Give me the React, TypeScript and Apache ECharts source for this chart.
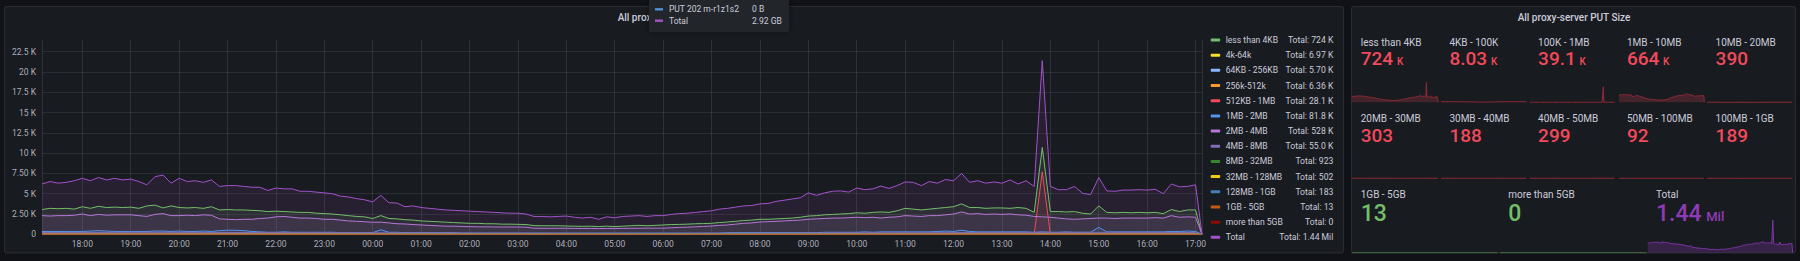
import React, { useEffect, useRef } from "react";
import * as echarts from "echarts";

// ---------------- time range (local time) ----------------
const RANGE_START = new Date(2023, 4, 10, 17, 10).getTime();
const RANGE_LAST_BUCKET = new Date(2023, 4, 11, 17, 0).getTime();
const RANGE_END = new Date(2023, 4, 11, 17, 8).getTime();
const TRAILING_BUCKET_VALUE = 0; // incomplete last bucket drops to 0

// ---------------- axis ----------------
const yTickLabels = ["0", "2.50 K", "5 K", "7.50 K", "10 K", "12.5 K", "15 K", "17.5 K", "20 K", "22.5 K"];
const yTickStep = 2.5; // thousands
const yAxisMax = 23.94; // thousands

// ---------------- legend ----------------
const legendNames = [
  "less than 4KB", "4k-64k", "64KB - 256KB", "256k-512k", "512KB - 1MB", "1MB - 2MB", "2MB - 4MB",
  "4MB - 8MB", "8MB - 32MB", "32MB - 128MB", "128MB - 1GB", "1GB - 5GB", "more than 5GB", "Total",
];
const legendColors = [
  "#73bf69", "#fade2a", "#8ab8ff", "#ff9830", "#f2495c", "#5794f2", "#b877d9",
  "#806eb7", "#37872d", "#f2cc0c", "#447ebc", "#c15c17", "#890f02", "#a352cc",
];
const legendTotals = [
  "724 K", "6.97 K", "5.70 K", "6.36 K", "28.1 K", "81.8 K", "528 K",
  "55.0 K", "923", "502", "183", "13", "0", "1.44 Mil",
];

// ---------------- series values (thousands, 10-min buckets from 17:10 to 17:00) ----------------
const lessThan4KB = [
  3.05, 3.2, 3.15, 3.2, 3.1,
  3.4, 3.2, 3.45, 3.3, 3.35, 3.3,
  3.35, 3.2, 3.5, 3.6, 3.25, 3.5,
  3.3, 3.25, 3.3, 3.2, 3.4, 3.0,
  3.05, 3.0, 3.0, 2.95, 2.9, 2.8,
  2.85, 2.8, 2.75, 2.7, 2.7, 2.6,
  2.55, 2.5, 2.4, 2.3, 2.2, 2.15,
  1.95, 2.3, 1.95, 1.9, 1.8, 1.75,
  1.65, 1.6, 1.55, 1.5, 1.45, 1.4,
  1.35, 1.35, 1.3, 1.3, 1.25, 1.25,
  1.23, 1.2, 1.07, 1.05, 1.05, 1.05,
  1.02, 1.0, 0.98, 1.0, 0.95, 1.0,
  0.95, 1.0, 1.05, 1.1, 1.05, 1.1,
  1.15, 1.2, 1.22, 1.25, 1.3, 1.32,
  1.35, 1.45, 1.52, 1.6, 1.7, 1.75,
  1.85, 1.85, 1.9, 1.95, 2.0, 2.1,
  2.25, 2.3, 2.4, 2.45, 2.5, 2.55,
  2.65, 2.6, 2.7, 2.75, 2.7, 2.9,
  3.2, 3.1, 3.0, 3.1, 3.2, 3.3,
  3.4, 3.75, 3.3, 3.3, 3.2, 3.25,
  3.25, 3.2, 3.3, 3.2, 2.7, 10.7,
  2.8, 2.8, 2.75, 2.8, 2.6, 2.5,
  3.5, 2.7, 2.65, 2.7, 2.65, 2.7,
  2.65, 2.7, 2.55, 3.05, 2.8, 3.0,
  3.0,
];
const k4to64k = [0.03, 0.03, 0.03, 0.02, 0.02, 0.01, 0.01, 0.02, 0.03, 0.03, 0.03, 0.03];
const kb64to256 = [0.02, 0.02, 0.02, 0.02, 0.01, 0.01, 0.01, 0.02, 0.02, 0.02, 0.03, 0.02];
const k256to512 = [0.03, 0.02, 0.02, 0.02, 0.01, 0.01, 0.02, 0.02, 0.03, 0.03, 0.03, 0.02];
const kb512to1MB = [
  0.03, 0.03, 0.04, 0.03, 0.03,
  0.04, 0.03, 0.03, 0.04, 0.03, 0.03,
  0.03, 0.04, 0.03, 0.03, 0.04, 0.03,
  0.03, 0.03, 0.03, 0.04, 0.03, 0.03,
  0.03, 0.03, 0.02, 0.03, 0.03, 0.02,
  0.02, 0.03, 0.02, 0.02, 0.02, 0.02,
  0.02, 0.02, 0.02, 0.02, 0.02, 0.02,
  0.02, 0.04, 0.02, 0.02, 0.02, 0.01,
  0.01, 0.01, 0.01, 0.01, 0.01, 0.01,
  0.01, 0.01, 0.01, 0.01, 0.01, 0.01,
  0.01, 0.01, 0.01, 0.01, 0.01, 0.01,
  0.01, 0.01, 0.01, 0.01, 0.01, 0.01,
  0.01, 0.01, 0.01, 0.01, 0.01, 0.01,
  0.01, 0.01, 0.01, 0.02, 0.02, 0.02,
  0.02, 0.02, 0.02, 0.02, 0.02, 0.02,
  0.02, 0.02, 0.02, 0.03, 0.03, 0.03,
  0.03, 0.03, 0.03, 0.03, 0.03, 0.03,
  0.03, 0.03, 0.03, 0.03, 0.03, 0.03,
  0.03, 0.03, 0.03, 0.04, 0.03, 0.03,
  0.03, 0.05, 0.03, 0.03, 0.03, 0.03,
  0.03, 0.03, 0.03, 0.03, 0.03, 7.7,
  0.03, 0.03, 0.03, 0.03, 0.03, 0.03,
  0.05, 0.03, 0.03, 0.03, 0.03, 0.03,
  0.03, 0.03, 0.03, 0.03, 0.03, 0.03,
  0.03,
];
const mb1to2 = [
  0.35, 0.35, 0.35, 0.35, 0.35,
  0.35, 0.4, 0.45, 0.4, 0.35, 0.35,
  0.35, 0.35, 0.35, 0.4, 0.4, 0.35,
  0.4, 0.35, 0.35, 0.4, 0.35, 0.45,
  0.5, 0.5, 0.45, 0.35, 0.3, 0.25,
  0.25, 0.3, 0.25, 0.25, 0.25, 0.25,
  0.25, 0.25, 0.2, 0.2, 0.2, 0.2,
  0.2, 0.55, 0.25, 0.25, 0.2, 0.2,
  0.2, 0.2, 0.2, 0.2, 0.2, 0.15,
  0.15, 0.15, 0.15, 0.15, 0.15, 0.15,
  0.15, 0.15, 0.15, 0.15, 0.15, 0.15,
  0.15, 0.15, 0.15, 0.15, 0.15, 0.15,
  0.15, 0.15, 0.15, 0.15, 0.15, 0.15,
  0.15, 0.15, 0.15, 0.15, 0.15, 0.15,
  0.15, 0.15, 0.2, 0.2, 0.2, 0.2,
  0.2, 0.2, 0.2, 0.2, 0.2, 0.2,
  0.2, 0.2, 0.25, 0.25, 0.25, 0.25,
  0.25, 0.3, 0.25, 0.3, 0.3, 0.3,
  0.3, 0.3, 0.3, 0.3, 0.35, 0.4,
  0.35, 0.5, 0.35, 0.3, 0.3, 0.3,
  0.3, 0.3, 0.3, 0.3, 0.25, 0.3,
  0.25, 0.25, 0.3, 0.25, 0.25, 0.25,
  0.85, 0.3, 0.3, 0.3, 0.3, 0.3,
  0.3, 0.3, 0.3, 0.35, 0.35, 0.4,
  0.35,
];
const mb2to4 = [
  2.3, 2.25, 2.3, 2.3, 2.35,
  2.5, 2.3, 2.45, 2.35, 2.4, 2.4,
  2.4, 2.3, 2.2, 2.45, 2.55, 2.3,
  2.3, 2.35, 2.3, 2.4, 2.35, 1.9,
  1.85, 1.8, 1.85, 1.85, 1.95, 2.0,
  2.15, 2.2, 2.1, 2.0, 2.0, 1.95,
  1.85, 1.85, 1.75, 1.65, 1.6, 1.55,
  1.48, 1.5, 1.4, 1.3, 1.27, 1.2,
  1.15, 1.1, 1.05, 1.0, 1.0, 0.97,
  0.94, 0.92, 0.92, 0.9, 0.9, 0.9,
  0.9, 0.88, 0.75, 0.74, 0.74, 0.74,
  0.74, 0.73, 0.72, 0.73, 0.7, 0.72,
  0.72, 0.73, 0.74, 0.75, 0.76, 0.76,
  0.76, 0.8, 0.85, 0.88, 0.92, 0.97,
  1.02, 1.1, 1.15, 1.25, 1.35, 1.4,
  1.52, 1.55, 1.6, 1.65, 1.7, 1.75,
  1.85, 1.9, 1.95, 2.0, 2.0, 2.05,
  2.1, 2.05, 2.1, 2.0, 2.1, 2.15,
  2.3, 2.25, 2.2, 2.3, 2.3, 2.4,
  2.5, 2.75, 2.5, 2.55, 2.45, 2.5,
  2.45, 2.5, 2.4, 2.35, 2.2, 2.15,
  2.1, 2.0, 1.9, 1.85, 1.9, 1.95,
  2.0, 2.0, 1.95, 2.0, 2.0, 2.0,
  2.0, 2.05, 2.0, 2.3, 2.1, 2.15,
  2.1,
];
const mb4to8 = [0.22, 0.24, 0.22, 0.19, 0.15, 0.12, 0.11, 0.14, 0.18, 0.22, 0.24, 0.22];
const mb8to32 = [0.004, 0.004, 0.003, 0.003, 0.002, 0.002, 0.002, 0.003, 0.004, 0.004, 0.004, 0.004];
const mb32to128 = [0.002, 0.002, 0.002, 0.002, 0.001, 0.001, 0.001, 0.002, 0.002, 0.002, 0.002, 0.002];
const mb128to1GB = [0.001, 0.001, 0.001, 0.0, 0.0, 0.0, 0.0, 0.001, 0.001, 0.001, 0.001, 0.001];
const gb1to5 = [0, 0, 0, 0, 0, 0, 0, 0, 0, 0, 0, 0];
const moreThan5GB = [0, 0, 0, 0, 0, 0, 0, 0, 0, 0, 0, 0];
const totalAll = [
  6.2, 6.5, 6.3, 6.4, 6.6,
  6.9, 6.6, 7.0, 6.7, 6.9, 6.7,
  6.8, 6.5, 6.1, 7.1, 7.3, 6.3,
  6.9, 6.5, 6.6, 6.4, 6.7, 5.9,
  6.0, 6.0, 5.9, 5.8, 5.8, 5.4,
  5.7, 5.6, 5.6, 5.3, 5.3, 5.2,
  5.1, 5.0, 4.7, 4.6, 4.4, 4.25,
  4.0, 4.8, 3.9, 3.85, 3.4, 3.5,
  3.3, 3.2, 3.1, 3.0, 2.95, 2.9,
  2.85, 2.8, 2.75, 2.7, 2.65, 2.6,
  2.6, 2.5, 2.2, 2.2, 2.15, 2.2,
  2.25, 2.1, 2.0, 2.1, 1.85, 2.15,
  2.05, 2.2, 2.25, 2.3, 2.2, 2.3,
  2.3, 2.45, 2.55, 2.6, 2.7, 2.8,
  2.9, 3.1, 3.2, 3.35, 3.5, 3.55,
  3.75, 3.8, 4.05, 4.2, 4.35, 4.5,
  5.1, 4.8, 5.1, 5.3, 5.35, 5.2,
  5.7, 5.5, 5.6, 5.95, 5.65, 6.0,
  6.45, 6.4, 6.0, 6.5, 6.3, 6.75,
  6.6, 7.5, 6.4, 6.6, 6.3, 6.45,
  6.3, 6.7, 6.2, 6.6, 5.9, 21.4,
  5.9, 5.5, 5.5, 5.9, 5.05, 4.9,
  7.0, 5.35, 5.3, 5.45, 5.45, 5.5,
  5.45, 5.55, 5.0, 6.2, 5.85, 5.9,
  6.1,
];
const seriesValues = [
  lessThan4KB, k4to64k, kb64to256, k256to512, kb512to1MB, mb1to2, mb2to4,
  mb4to8, mb8to32, mb32to128, mb128to1GB, gb1to5, moreThan5GB, totalAll,
];

// ---------------- stat panel ----------------
const statRow1Labels = ["less than 4KB", "4KB - 100K", "100K - 1MB", "1MB - 10MB", "10MB - 20MB"];
const statRow1Values = ["724", "8.03", "39.1", "664", "390"];
const statRow1Units = ["K", "K", "K", "K", ""];
const statRow2Labels = ["20MB - 30MB", "30MB - 40MB", "40MB - 50MB", "50MB - 100MB", "100MB - 1GB"];
const statRow2Values = ["303", "188", "299", "92", "189"];
const statRow3Labels = ["1GB - 5GB", "more than 5GB", "Total"];
const statRow3Values = ["13", "0", "1.44"];
const statRow3Units = ["", "", "Mil"];

// tooltip
const tooltipNames = ["PUT 202 m-r1z1s2", "Total"];
const tooltipValues = ["0 B", "2.92 GB"];
const tooltipColors = ["#4f8fd6", "#a352cc"];

const PANEL_TITLE = "All proxy-server PUT Size";
const FONT = "Roboto, 'Noto Sans', sans-serif";

function toPoints(vals: number[]) {
  const n = vals.length;
  const step = (RANGE_LAST_BUCKET - RANGE_START) / (n - 1);
  const pts: [number, number][] = vals.map((v, i) => [RANGE_START + i * step, v]);
  pts.push([RANGE_END, TRAILING_BUCKET_VALUE]);
  return pts;
}

const pad2 = (n: number) => (n < 10 ? "0" + n : "" + n);

function buildOption() {
  const canvas = document.createElement("canvas");
  const ctx = canvas.getContext("2d") as CanvasRenderingContext2D;
  const textWidth = (t: string, font: string) => {
    ctx.font = font;
    return ctx.measureText(t).width;
  };

  const grids: any[] = [];
  const xAxes: any[] = [];
  const yAxes: any[] = [];
  const series: any[] = [];
  const els: any[] = [];

  // ---- main time series chart ----
  grids.push({ left: 42, top: 40, width: 1160, height: 194.3 });
  xAxes.push({
    type: "time",
    gridIndex: 0,
    min: RANGE_START,
    max: RANGE_END,
    minInterval: 3600 * 1000,
    maxInterval: 3600 * 1000,
    axisLine: { show: false },
    axisTick: { show: false },
    axisLabel: {
      color: "rgba(204,204,220,0.85)",
      fontSize: 8.5,
      fontFamily: FONT,
      margin: 5,
      hideOverlap: false,
      formatter: (v: number) => {
        const d = new Date(v);
        return pad2(d.getHours()) + ":" + pad2(d.getMinutes());
      },
    },
    splitLine: { show: true, lineStyle: { color: "rgba(204,204,220,0.13)", width: 1 } },
  });
  yAxes.push({
    type: "value",
    gridIndex: 0,
    min: 0,
    max: yAxisMax,
    interval: yTickStep,
    axisLine: { show: false },
    axisTick: { show: false },
    axisLabel: {
      color: "rgba(204,204,220,0.85)",
      fontSize: 8.5,
      fontFamily: FONT,
      margin: 6,
      showMaxLabel: false,
      formatter: (v: number) => {
        const k = v / yTickStep;
        const r = Math.round(k);
        if (Math.abs(k - r) > 1e-6 || r >= yTickLabels.length) return "";
        return yTickLabels[r];
      },
    },
    splitLine: { show: true, showMaxLine: false, lineStyle: { color: "rgba(204,204,220,0.1)", width: 1 } },
  });

  legendNames.forEach((name, i) => {
    series.push({
      type: "line",
      name,
      xAxisIndex: 0,
      yAxisIndex: 0,
      data: toPoints(seriesValues[i]),
      showSymbol: false,
      symbol: "none",
      clip: false,
      silent: true,
      lineStyle: { width: 1, color: legendColors[i] },
      itemStyle: { color: legendColors[i] },
      areaStyle: { color: legendColors[i], opacity: 0.1 },
      // the empty "more than 5GB" series sits underneath the others
      z: name === "more than 5GB" ? 1 : 2,
    });
  });

  // ---- sparklines for stat tiles ----
  const RED_LINE = "#8e2a37";
  const RED_FILL = "rgba(242,73,92,0.2)";
  const GREEN_LINE = "#46703f";
  const PURPLE_LINE = "#7d36a8";
  const PURPLE_FILL = "rgba(143,59,184,0.27)";
  const col5 = [1351.7, 1441, 1530, 1619, 1707];
  const sparkDefs: any[] = [
    { data: lessThan4KB, x: col5[0], w: 86.6, top: 82.3, bottom: 102.3, fill: true, line: RED_LINE, area: RED_FILL },
    { data: k4to64k, x: col5[1], w: 85.7, top: 82.3, bottom: 102.3, flat: true, line: RED_LINE },
    { data: kb512to1MB, x: col5[2], w: 85, top: 86.7, bottom: 102.3, fill: true, line: RED_LINE, area: RED_FILL },
    { data: mb2to4, x: col5[3], w: 85.3, top: 93.5, bottom: 102.3, fill: true, line: RED_LINE, area: RED_FILL },
    { data: mb8to32, x: col5[4], w: 85.7, top: 82.3, bottom: 102.3, flat: true, line: RED_LINE },
    { data: mb8to32, x: col5[0], w: 86.6, top: 158.3, bottom: 178.3, flat: true, line: RED_LINE },
    { data: mb32to128, x: col5[1], w: 85.7, top: 158.3, bottom: 178.3, flat: true, line: RED_LINE },
    { data: mb32to128, x: col5[2], w: 85, top: 158.3, bottom: 178.3, flat: true, line: RED_LINE },
    { data: mb128to1GB, x: col5[3], w: 85.3, top: 158.3, bottom: 178.3, flat: true, line: RED_LINE },
    { data: mb128to1GB, x: col5[4], w: 85.7, top: 158.3, bottom: 178.3, flat: true, line: RED_LINE },
    { data: gb1to5, x: 1351.7, w: 146, top: 232.7, bottom: 252.7, flat: true, line: GREEN_LINE },
    { data: moreThan5GB, x: 1500, w: 146.7, top: 232.7, bottom: 252.7, flat: true, line: GREEN_LINE },
    { data: totalAll, x: 1647.7, w: 145, top: 220, bottom: 252.7, fill: true, line: PURPLE_LINE, area: PURPLE_FILL },
  ];
  sparkDefs.forEach((s, k) => {
    const gi = k + 1;
    grids.push({ left: s.x, top: s.top, width: s.w, height: s.bottom - s.top });
    xAxes.push({ type: "time", gridIndex: gi, min: RANGE_START, max: RANGE_END, show: false });
    yAxes.push({ type: "value", gridIndex: gi, min: 0, max: s.flat ? 1 : "dataMax", show: false });
    series.push({
      type: "line",
      xAxisIndex: gi,
      yAxisIndex: gi,
      data: toPoints(s.data),
      showSymbol: false,
      symbol: "none",
      clip: false,
      silent: true,
      lineStyle: { width: 1, color: s.line },
      areaStyle: s.fill ? { color: s.area, opacity: 1 } : undefined,
      z: 3,
    });
  });

  // ---- panels ----
  els.push({
    type: "rect", z: -5, silent: true,
    shape: { x: 4.5, y: 6.5, width: 1339, height: 246.5, r: 2 },
    style: { fill: "#181b1f", stroke: "rgba(204,204,220,0.12)", lineWidth: 1 },
  });
  els.push({
    type: "rect", z: -5, silent: true,
    shape: { x: 1351.5, y: 6.5, width: 444, height: 246.5, r: 2 },
    style: { fill: "#181b1f", stroke: "rgba(204,204,220,0.12)", lineWidth: 1 },
  });

  const txt = (x: number, y: number, text: string, o: any = {}) => ({
    type: "text",
    x,
    y,
    z: o.z ?? 10,
    silent: true,
    style: {
      text,
      fill: o.fill ?? "#ccccdc",
      fontSize: o.size ?? 10,
      fontFamily: FONT,
      fontWeight: o.weight ?? 400,
      align: o.align ?? "left",
      textAlign: o.align ?? "left",
      verticalAlign: "middle",
      textVerticalAlign: "middle",
    },
  });

  // titles
  els.push(txt(674, 17.3, PANEL_TITLE, { align: "center", weight: 500, size: 10 }));
  els.push(txt(1574, 17.3, PANEL_TITLE, { align: "center", weight: 500, size: 10 }));

  // legend
  legendNames.forEach((name, i) => {
    const y = 40 + i * 15.18;
    els.push({
      type: "rect", z: 10, silent: true,
      shape: { x: 1210.7, y: y - 1.5, width: 9.5, height: 3, r: 1 },
      style: { fill: legendColors[i] },
    });
    els.push(txt(1225.7, y, name, { size: 8.6 }));
    els.push(txt(1333.3, y, "Total: " + legendTotals[i], { size: 8.6, align: "right" }));
  });

  // stat tiles
  const addStat = (x: number, labelY: number, valueY: number, label: string, value: string, unit: string,
    vSize: number, uSize: number, color: string) => {
    els.push(txt(x, labelY, label, { size: 10 }));
    els.push(txt(x, valueY, value, { size: vSize, weight: 500, fill: color }));
    if (unit) {
      const w = textWidth(value, `500 ${vSize}px Roboto`);
      const baseline = valueY + 0.34 * vSize;
      els.push(txt(x + w + 0.2 * vSize, baseline - 0.34 * uSize, unit, { size: uSize, weight: 500, fill: color }));
    }
  };
  const labX5 = [1360.7, 1449.4, 1538.1, 1626.9, 1715.6];
  statRow1Labels.forEach((l, i) =>
    addStat(labX5[i], 42.5, 58.3, l, statRow1Values[i], statRow1Units[i], 19, 10, "#f2495c"));
  statRow2Labels.forEach((l, i) =>
    addStat(labX5[i], 118.7, 135, l, statRow2Values[i], "", 19, 10, "#f2495c"));
  const labX3 = [1360.7, 1508.3, 1656];
  const row3Colors = ["#73bf69", "#73bf69", "#8f3bb8"];
  statRow3Labels.forEach((l, i) =>
    addStat(labX3[i], 194.3, 213.3, l, statRow3Values[i], statRow3Units[i], 23, 13, row3Colors[i]));

  // tooltip overlay
  els.push({
    type: "rect", z: 50, silent: true,
    shape: { x: 649, y: -4, width: 140, height: 36, r: 2 },
    style: { fill: "#22252b", shadowBlur: 6, shadowColor: "rgba(0,0,0,0.4)" },
  });
  tooltipNames.forEach((n, i) => {
    const y = 9.3 + i * 11.4;
    els.push({
      type: "rect", z: 51, silent: true,
      shape: { x: 655, y: y - 1.2, width: 8, height: 2.4 },
      style: { fill: tooltipColors[i] },
    });
    els.push(txt(669, y, n, { size: 8.5, z: 51 }));
    els.push(txt(752, y, tooltipValues[i], { size: 8.5, z: 51 }));
  });

  return {
    animation: false,
    backgroundColor: "#111217",
    grid: grids,
    xAxis: xAxes,
    yAxis: yAxes,
    series,
    graphic: { elements: els },
  };
}

export default function App() {
  const ref = useRef<HTMLDivElement>(null);
  useEffect(() => {
    document.body.style.margin = "0";
    const chart = echarts.init(ref.current as HTMLDivElement, null, { renderer: "svg" });
    chart.setOption(buildOption() as any);
    return () => chart.dispose();
  }, []);
  return <div ref={ref} style={{ width: 1800, height: 261 }} />;
}
